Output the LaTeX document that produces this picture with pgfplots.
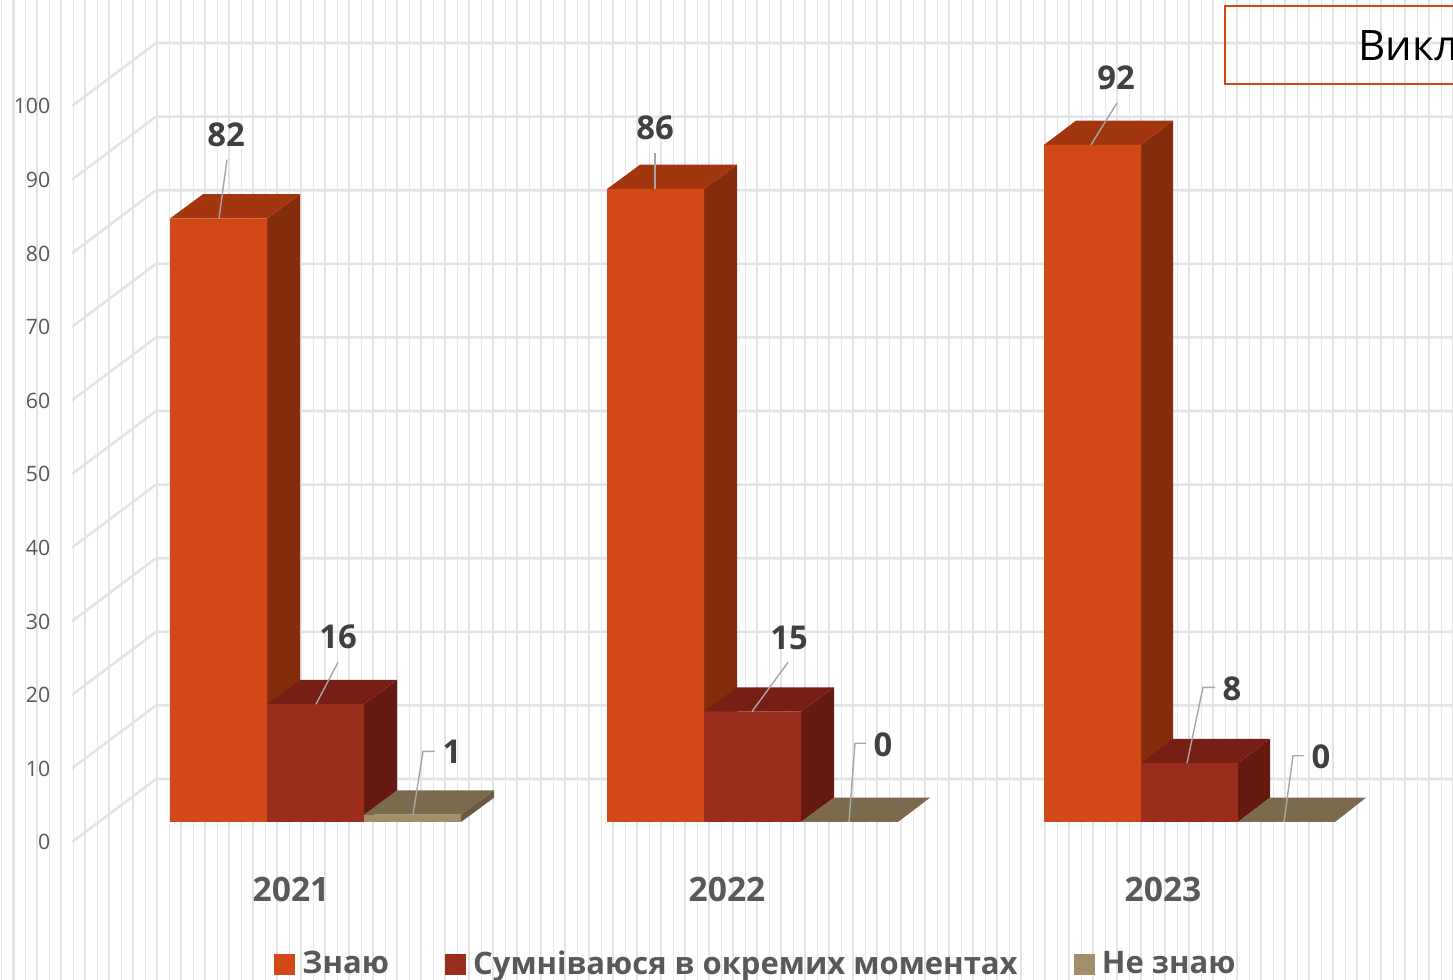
\documentclass[border=0pt]{standalone}
\usepackage{pgfplots}
\pgfplotsset{compat=1.18}
\usepackage{fontspec}
\setmainfont{Open Sans}

\definecolor{orfront}{HTML}{D34817}
\definecolor{orside}{HTML}{852C0C}
\definecolor{ortop}{HTML}{A2360F}
\definecolor{rdfront}{HTML}{9B2D1F}
\definecolor{rdside}{HTML}{651910}
\definecolor{rdtop}{HTML}{771F14}
\definecolor{tnfront}{HTML}{A28E6A}
\definecolor{tnside}{HTML}{6A5A41}
\definecolor{tntop}{HTML}{7B6A4D}
\definecolor{gridc}{HTML}{E4E4E4}
\definecolor{leader}{HTML}{A6A6A6}

\pgfplotsset{
  face/.style={fill=#1, draw=none, forget plot},
  wall/.style={draw=gridc, line width=1.3pt, forget plot},
  lead/.style={draw=leader, line width=0.7pt, forget plot},
  front/.style={ybar, bar width=48.5pt, bar shift=0pt, fill=#1, draw=none,
    legend image code/.code={\fill[#1] (0pt,-5.25pt) rectangle (10.5pt,5.25pt); \path (12pt,0pt);}},
}
\newcommand{\val}[3]{\node[font=\fontsize{16.4}{18}\selectfont\bfseries, text=black!75, inner sep=0pt] at (axis cs:#1,#2) {#3};}

\begin{document}
\begin{tikzpicture}
\begin{axis}[
    scale only axis,
    width=726.5pt, height=490pt,
    xmin=0, xmax=1453,
    ymin=-21.467, ymax=111.685,
    axis line style={draw=none},
    major tick length=0pt, minor tick length=0pt,
    tick style={draw=none},
    xtick={13.3,37.29,...,1453},
    minor xtick={1.3,25.3,...,1453},
    xticklabels={},
    xmajorgrids, xminorgrids,
    major grid style={draw=gridc, line width=1.2pt},
    minor grid style={draw=gridc!85, line width=0.6pt},
    extra x ticks={291,727,1163},
    extra x tick labels={2021,2022,2023},
    extra x tick style={
      grid=none,
      xticklabel style={font=\fontsize{16.8}{18}\selectfont\bfseries, text=black!65,
        anchor=center, inner sep=0pt, yshift=45.3pt},
    },
    ytick={0,10,...,100},
    yticklabel style={font=\fontsize{10.6}{12}\selectfont, text=black!65,
      anchor=east, inner sep=0pt, xshift=25.3pt, yshift=-10.2pt,
      /pgf/number format/assume math mode=true},
    legend columns=3,
    legend cell align=left,
    legend style={draw=none, fill=none, at={(0.1886,0.0163)}, anchor=west, inner sep=0pt,
      font=\fontsize{15.5}{18}\selectfont\bfseries, text=black!65,
      /tikz/every even column/.append style={column sep=26.1pt}},
]
% back wall and its slanted side
\addplot[wall] coordinates {(72,-2.72)(156,5.84)(1453,5.84)};
\addplot[wall] coordinates {(72,7.28)(156,15.84)(1453,15.84)};
\addplot[wall] coordinates {(72,17.28)(156,25.84)(1453,25.84)};
\addplot[wall] coordinates {(72,27.28)(156,35.84)(1453,35.84)};
\addplot[wall] coordinates {(72,37.28)(156,45.84)(1453,45.84)};
\addplot[wall] coordinates {(72,47.28)(156,55.84)(1453,55.84)};
\addplot[wall] coordinates {(72,57.28)(156,65.84)(1453,65.84)};
\addplot[wall] coordinates {(72,67.28)(156,75.84)(1453,75.84)};
\addplot[wall] coordinates {(72,77.28)(156,85.84)(1453,85.84)};
\addplot[wall] coordinates {(72,87.28)(156,95.84)(1453,95.84)};
\addplot[wall] coordinates {(72,97.28)(156,105.84)(1453,105.84)};

% Знаю
\addplot[face=orside] coordinates {(267,0)(300,3.3)(300,85.3)(267,82)} -- cycle;
\addplot[face=ortop] coordinates {(170,82)(203,85.3)(300,85.3)(267,82)} -- cycle;
\addplot[face=orside] coordinates {(704,0)(737,3.3)(737,89.3)(704,86)} -- cycle;
\addplot[face=ortop] coordinates {(607,86)(640,89.3)(737,89.3)(704,86)} -- cycle;
\addplot[face=orside] coordinates {(1141,0)(1173,3.3)(1173,95.3)(1141,92)} -- cycle;
\addplot[face=ortop] coordinates {(1044,92)(1076,95.3)(1173,95.3)(1141,92)} -- cycle;
\addplot[front=orfront] coordinates {(218.5,82)(655.5,86)(1092.5,92)};
\addlegendentry{Знаю}

% Сумніваюся в окремих моментах
\addplot[face=rdside] coordinates {(364,0)(397,3.3)(397,19.3)(364,16)} -- cycle;
\addplot[face=rdtop] coordinates {(267,16)(300,19.3)(397,19.3)(364,16)} -- cycle;
\addplot[face=rdside] coordinates {(801,0)(834,3.3)(834,18.3)(801,15)} -- cycle;
\addplot[face=rdtop] coordinates {(704,15)(737,18.3)(834,18.3)(801,15)} -- cycle;
\addplot[face=rdside] coordinates {(1238,0)(1270,3.3)(1270,11.3)(1238,8)} -- cycle;
\addplot[face=rdtop] coordinates {(1141,8)(1173,11.3)(1270,11.3)(1238,8)} -- cycle;
\addplot[front=rdfront] coordinates {(315.5,16)(752.5,15)(1189.5,8)};
\addlegendentry{Сумніваюся в окремих моментах}

% Не знаю
\addplot[face=tnside] coordinates {(461,0)(494,3.3)(494,4.3)(461,1)} -- cycle;
\addplot[face=tntop] coordinates {(364,1)(397,4.3)(494,4.3)(461,1)} -- cycle;
\addplot[face=tntop] coordinates {(801,0)(834,3.3)(930,3.3)(898,0)} -- cycle;
\addplot[face=tntop] coordinates {(1238,0)(1270,3.3)(1366,3.3)(1335,0)} -- cycle;
\addplot[front=tnfront] coordinates {(412.5,1)(849.5,0)(1286.5,0)};
\addlegendentry{Не знаю}

% leader lines of the data labels
\addplot[lead] coordinates {(219,82)(227,90)};
\addplot[lead] coordinates {(316,16)(338,21.7)};
\addplot[lead] coordinates {(413,1)(423,9.6)(435,9.6)};
\addplot[lead] coordinates {(655,86)(655,90.9)};
\addplot[lead] coordinates {(752,15)(788,21.7)};
\addplot[lead] coordinates {(849,0)(855,10.7)(866,10.7)};
\addplot[lead] coordinates {(1091,92)(1117,97.7)};
\addplot[lead] coordinates {(1187,8)(1203,18.3)(1215,18.3)};
\addplot[lead] coordinates {(1284,0)(1293,9)(1304,9)};

\val{226}{93.4}{82}
\val{338}{25.2}{16}
\val{452}{9.5}{1}
\val{655}{94.3}{86}
\val{789}{25}{15}
\val{883}{10.5}{0}
\val{1116}{101.1}{92}
\val{1232}{18.1}{8}
\val{1321}{8.8}{0}

\draw[orfront, line width=1pt] (axis cs:1225,110.87) rectangle (axis cs:1600,100.27);
\node[anchor=base west, inner sep=0pt, font=\fontsize{21}{24}\selectfont] at (axis cs:1358,103.53) {Викл};
\end{axis}
\pgfresetboundingbox
\path[use as bounding box] (0,0) rectangle (726.5pt,490pt);
\end{tikzpicture}
\end{document}
